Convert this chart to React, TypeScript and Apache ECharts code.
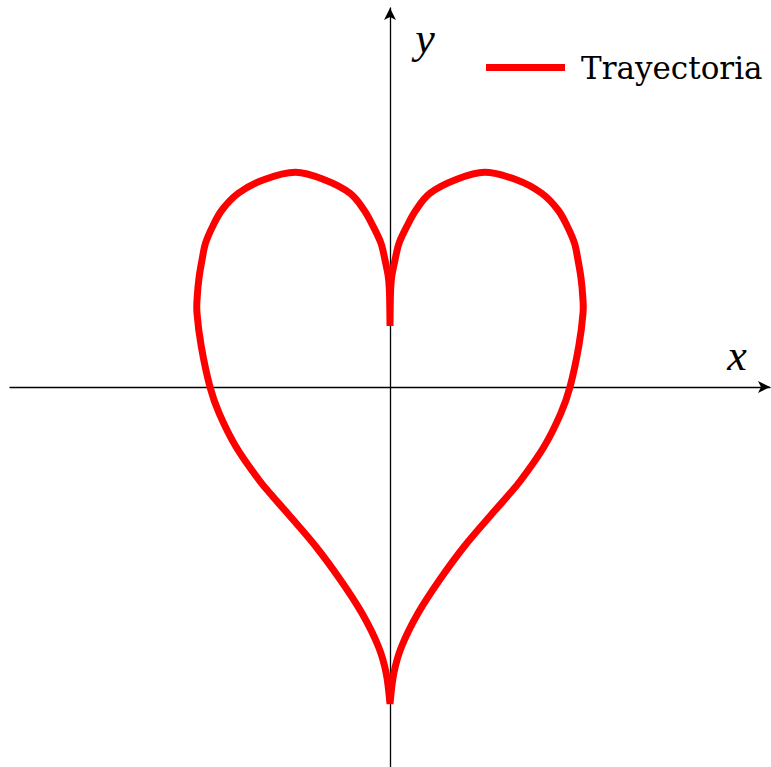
import React, { useEffect, useRef } from "react";
import * as echarts from "echarts";

// Heart-shaped trajectory, a closed loop traced clockwise from the top of the right lobe.
// Outer edge of the right half: right-lobe apex down to the bottom cusp.
const rightOuterX = [0.945, 1.27, 1.517, 1.68, 1.775, 1.845, 1.88, 1.91, 1.927, 1.93, 1.887, 1.8, 1.708, 1.54, 1.31, 1.17, 1.025, 0.74, 0.495, 0.28, 0.115, 0.038, 0.0];
const rightOuterY = [2.147, 2.07, 1.937, 1.77, 1.603, 1.437, 1.27, 1.09, 0.91, 0.737, 0.403, 0.0, -0.263, -0.597, -0.93, -1.097, -1.263, -1.597, -1.93, -2.263, -2.597, -2.863, -3.17];

// Outer edge of the left half: bottom cusp up to the left-lobe apex.
const leftOuterX = [-0.038, -0.115, -0.28, -0.495, -0.74, -1.025, -1.17, -1.31, -1.54, -1.708, -1.8, -1.887, -1.93, -1.927, -1.91, -1.88, -1.845, -1.775, -1.68, -1.517, -1.27, -0.945];
const leftOuterY = [-2.863, -2.597, -2.263, -1.93, -1.597, -1.263, -1.097, -0.93, -0.597, -0.263, 0.0, 0.403, 0.737, 0.91, 1.09, 1.27, 1.437, 1.603, 1.77, 1.937, 2.07, 2.147];

// Inner edge of the left lobe, down to the top cusp.
const leftInnerX = [-0.65, -0.4, -0.26, -0.167, -0.09, -0.05, -0.017, -0.005, 0.0];
const leftInnerY = [2.07, 1.937, 1.77, 1.603, 1.437, 1.27, 1.103, 0.937, 0.61];

// Inner edge of the right lobe, from the top cusp back towards the apex.
const rightInnerX = [0.005, 0.017, 0.05, 0.09, 0.167, 0.26, 0.4, 0.65];
const rightInnerY = [0.937, 1.103, 1.27, 1.437, 1.603, 1.77, 1.937, 2.07];

const seriesName = "Trayectoria";
const axisNames = { x: "x", y: "y" };
const curveColor = "#ff0000";

const pairs = (xs: number[], ys: number[]) => xs.map((x, i) => [x, ys[i]]);

// Closed Catmull-Rom spline through pixel points; sharp reversals are kept as cusps.
function loopPath(pts: number[][]): string {
  const n = pts.length;
  const tangents = pts.map((p, i) => {
    const a = pts[(i - 1 + n) % n];
    const b = pts[(i + 1) % n];
    const inX = p[0] - a[0], inY = p[1] - a[1];
    const outX = b[0] - p[0], outY = b[1] - p[1];
    const cos =
      (inX * outX + inY * outY) /
      (Math.hypot(inX, inY) * Math.hypot(outX, outY) || 1);
    if (cos < -0.3) return [0, 0];
    return [(b[0] - a[0]) / 6, (b[1] - a[1]) / 6];
  });
  const f = (v: number) => v.toFixed(2);
  let d = `M ${f(pts[0][0])} ${f(pts[0][1])}`;
  for (let i = 0; i < n; i++) {
    const p = pts[i];
    const q = pts[(i + 1) % n];
    const tp = tangents[i];
    const tq = tangents[(i + 1) % n];
    d += ` C ${f(p[0] + tp[0])} ${f(p[1] + tp[1])} ${f(q[0] - tq[0])} ${f(q[1] - tq[1])} ${f(q[0])} ${f(q[1])}`;
  }
  return d + " Z";
}

export default function App() {
  const ref = useRef<HTMLDivElement>(null);

  useEffect(() => {
    if (!ref.current) return;
    const chart = echarts.init(ref.current, null, { renderer: "svg" });

    const data = [
      ...pairs(rightOuterX, rightOuterY),
      ...pairs(leftOuterX, leftOuterY),
      ...pairs(leftInnerX, leftInnerY),
      ...pairs(rightInnerX, rightInnerY),
    ];

    const axisCommon = {
      type: "value" as const,
      axisLine: {
        show: true,
        onZero: true,
        symbol: ["none", "arrow"],
        symbolSize: [9, 12],
        lineStyle: { color: "#000", width: 1.3 },
      },
      axisTick: { show: false },
      axisLabel: { show: false },
      splitLine: { show: false },
    };

    chart.setOption({
      animation: false,
      backgroundColor: "#fff",
      grid: { left: 10, right: 1, top: 8, bottom: 0, containLabel: false },
      xAxis: { ...axisCommon, min: -3.8, max: 3.8 },
      yAxis: { ...axisCommon, min: -3.8, max: 3.79 },
      legend: {
        data: [seriesName],
        left: 486,
        top: 52,
        padding: 0,
        icon: "rect",
        itemWidth: 79,
        itemHeight: 7,
        selectedMode: false,
        textStyle: {
          fontFamily: "DejaVu Serif",
          fontSize: 31,
          color: "#000",
          padding: [0, 0, 4, 11],
        },
      },
      graphic: [
        {
          type: "text",
          x: 737,
          y: 355,
          style: {
            text: axisNames.x,
            font: "italic 44px 'Liberation Serif'",
            fill: "#000",
            align: "center",
            verticalAlign: "middle",
          },
        },
        {
          type: "text",
          x: 425,
          y: 38,
          style: {
            text: axisNames.y,
            font: "italic 44px 'Liberation Serif'",
            fill: "#000",
            align: "center",
            verticalAlign: "middle",
          },
        },
      ],
      series: [
        {
          name: seriesName,
          type: "custom",
          coordinateSystem: "cartesian2d",
          data,
          itemStyle: { color: curveColor },
          renderItem: (params: any, api: any) => {
            if (params.dataIndex !== 0) return null;
            const pts = data.map((p) => api.coord(p));
            return {
              type: "path",
              shape: { pathData: loopPath(pts) },
              style: {
                fill: "none",
                stroke: curveColor,
                lineWidth: 7,
                lineJoin: "miter",
                miterLimit: 4,
              },
            };
          },
        },
      ],
    });

    return () => chart.dispose();
  }, []);

  return (
    <div
      ref={ref}
      style={{ position: "fixed", left: 0, top: 0, width: 771, height: 767 }}
    />
  );
}
